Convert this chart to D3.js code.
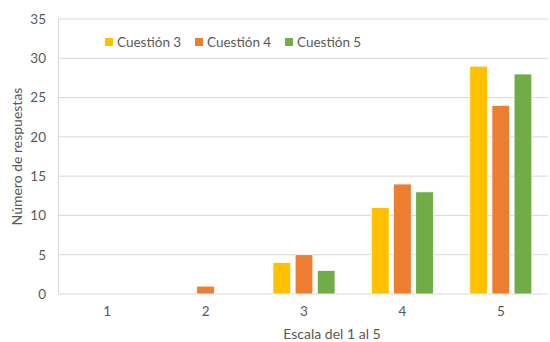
<!DOCTYPE html>
<html>
<head>
<meta charset="utf-8">
<script src="https://cdn.jsdelivr.net/npm/d3@7"></script>
<style>
  body { margin: 0; background: #fff; }
  text { font-family: Lato, "Open Sans", sans-serif; fill: #595959; }
</style>
</head>
<body>
<div id="chart"></div>
<script>
var categories = ['1', '2', '3', '4', '5'];
var seriesNames = ['Cuestión 3', 'Cuestión 4', 'Cuestión 5'];
var cuestion3 = [0, 0, 4, 11, 29];
var cuestion4 = [0, 1, 5, 14, 24];
var cuestion5 = [0, 0, 3, 13, 28];
var yTicks = [0, 5, 10, 15, 20, 25, 30, 35];

var seriesValues = [cuestion3, cuestion4, cuestion5];
var colors = ['#FFC000', '#ED7D31', '#70AD47'];

var width = 550, height = 342;
var margin = {top: 19, right: 0, bottom: 48, left: 58};

var svg = d3.select('#chart').append('svg')
	.attr('width', width)
	.attr('height', height);

var x = d3.scaleBand().domain(categories).range([margin.left, width - margin.right]);
var xs = d3.scaleBand().domain(seriesNames).range([0, 62]).paddingInner(0.2);
var y = d3.scaleLinear().domain([0, 35]).range([height - margin.bottom, margin.top]);

// gridlines
svg.append('g').selectAll('line').data(yTicks).enter().append('line')
	.attr('x1', margin.left).attr('x2', 548)
	.attr('y1', function(d) { return y(d); })
	.attr('y2', function(d) { return y(d); })
	.style('stroke', '#d9d9d9').style('stroke-width', 1);

// left border line
svg.append('line')
	.attr('x1', margin.left + 0.5).attr('x2', margin.left + 0.5)
	.attr('y1', y(35)).attr('y2', y(0))
	.style('stroke', '#d9d9d9');

// bars
var data = [];
categories.forEach(function(c, i) {
	seriesNames.forEach(function(s, j) {
		data.push({cat: c, series: s, value: seriesValues[j][i], color: colors[j]});
	});
});

svg.append('g').selectAll('rect').data(data).enter().append('rect')
	.attr('x', function(d) { return x(d.cat) + x.bandwidth() / 2 - 31 + xs(d.series); })
	.attr('width', xs.bandwidth())
	.attr('y', function(d) { return y(d.value); })
	.attr('height', function(d) { return y(0) - y(d.value); })
	.style('fill', function(d) { return d.color; })
	.style('stroke', '#fff').style('stroke-width', 0.75);

// y axis labels
var yAxis = d3.axisLeft(y).tickValues(yTicks).tickSize(0).tickPadding(0);
var gy = svg.append('g').attr('transform', 'translate(46,0)').call(yAxis);
gy.select('.domain').remove();
gy.selectAll('text').style('font-size', '13.5px').style('fill', '#595959');

// x axis labels
var xAxis = d3.axisBottom(x).tickSize(0).tickPadding(12);
var gx = svg.append('g').attr('transform', 'translate(0,' + y(0) + ')').call(xAxis);
gx.select('.domain').remove();
gx.selectAll('text').style('font-size', '13.5px').style('fill', '#595959');

// axis titles
svg.append('text')
	.attr('x', (margin.left + width) / 2 + 28).attr('y', 339)
	.attr('text-anchor', 'middle').style('font-size', '14px')
	.text('Escala del 1 al 5');

svg.append('text')
	.attr('transform', 'translate(22,' + (y(17.5)) + ') rotate(-90)')
	.attr('text-anchor', 'middle').style('font-size', '14px')
	.text('Número de respuestas');

// legend
var legendX = [105, 195, 285];
var legend = svg.selectAll('.legend').data(seriesNames).enter().append('g')
	.attr('class', 'legend')
	.attr('transform', function(d, i) { return 'translate(' + legendX[i] + ',38)'; });

legend.append('rect')
	.attr('width', 8).attr('height', 8)
	.style('fill', function(d, i) { return colors[i]; });

legend.append('text')
	.attr('x', 12).attr('y', 8.5)
	.style('font-size', '13.5px')
	.text(function(d) { return d; });
</script>
</body>
</html>
